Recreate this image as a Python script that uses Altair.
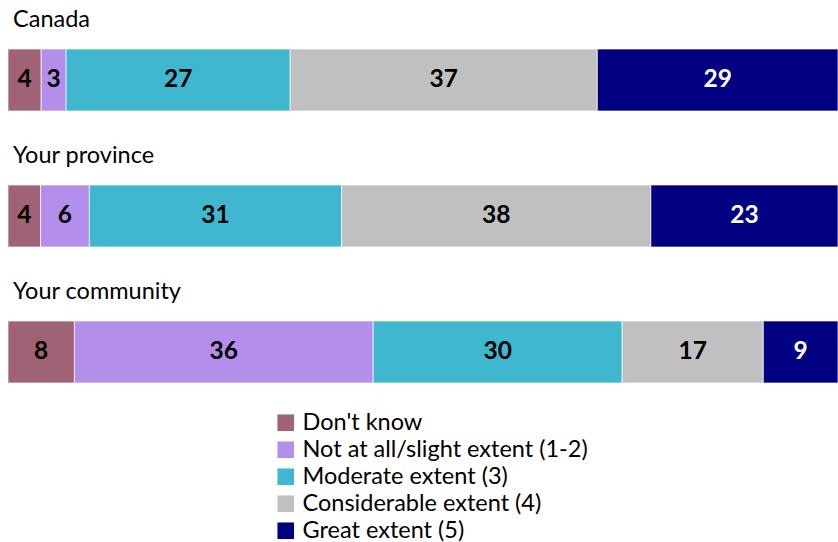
import altair as alt
import pandas as pd

groups = ["Canada", "Your province", "Your community"]
categories = ["Don't know", "Not at all/slight extent (1-2)", "Moderate extent (3)",
              "Considerable extent (4)", "Great extent (5)"]
colors = ["#A06275", "#B38FEB", "#3FB7CF", "#C0C0C0", "#000080"]
canada = [4, 3, 27, 37, 29]
province = [4, 6, 31, 38, 23]
community = [8, 36, 30, 17, 9]

rows = []
for g, vals in zip(groups, [canada, province, community]):
    for i, (c, v) in enumerate(zip(categories, vals)):
        rows.append({"group": g, "cat": c, "value": v, "ord": i})
df = pd.DataFrame(rows)
titles = pd.DataFrame({"group": groups})

FONT = "Lato"

yscale = alt.Scale(domain=groups, range=[49, 383], paddingInner=0.544, paddingOuter=0)
xscale = alt.Scale(domain=[0, 1], nice=False, zero=True)

bars = alt.Chart(df).mark_bar(stroke="white", strokeWidth=0.7).encode(
    y=alt.Y("group:N", scale=yscale, axis=None),
    x=alt.X("value:Q", stack="normalize", scale=xscale, axis=None),
    color=alt.Color("cat:N", scale=alt.Scale(domain=categories, range=colors),
                    legend=alt.Legend(title=None, orient="none", legendX=266, legendY=411,
                                      symbolType="square", symbolSize=275,
                                      symbolStrokeWidth=0, labelFontSize=23.5,
                                      labelFont=FONT, labelColor="black",
                                      labelOffset=5, rowPadding=2, labelLimit=400)),
    order=alt.Order("ord:Q"),
)

labels = alt.Chart(df).transform_joinaggregate(
    total="sum(value)", groupby=["group"]
).transform_window(
    cum="sum(value)", groupby=["group"], sort=[alt.SortField("ord")]
).transform_calculate(
    mid="(datum.cum - datum.value / 2) / datum.total"
).mark_text(font=FONT, fontSize=24.5, fontWeight="bold", baseline="middle", align="center").encode(
    y=alt.Y("group:N", scale=yscale, axis=None),
    x=alt.X("mid:Q", scale=xscale, axis=None),
    text=alt.Text("value:Q"),
    color=alt.condition("datum.cat === 'Great extent (5)'", alt.value("white"), alt.value("black")),
)

heads = alt.Chart(titles).mark_text(font=FONT, fontSize=23.5, align="left", baseline="middle",
                                    dy=-60, color="black").encode(
    y=alt.Y("group:N", scale=yscale, axis=None),
    x=alt.value(5),
    text="group:N",
)

chart = alt.layer(bars, labels, heads).properties(
    width=830, height=542,
    autosize=alt.AutoSizeParams(type="none"),
    padding={"left": 8, "top": 0, "right": 0, "bottom": 0},
).configure_view(stroke=None)

chart.save("out.html", embed_options={"renderer": "svg", "actions": False})
